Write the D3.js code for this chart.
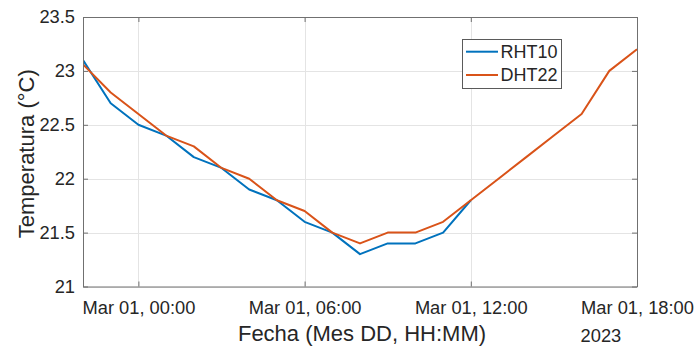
<!DOCTYPE html>
<html>
<head>
<meta charset="utf-8">
<script src="https://cdn.jsdelivr.net/npm/d3@7/dist/d3.min.js"></script>
<style>
  html, body { margin: 0; padding: 0; background: #fff; }
  svg { display: block; font-family: "Liberation Sans", Arial, Helvetica, sans-serif; }
</style>
</head>
<body>
<svg id="chart" width="699" height="347"></svg>
<script>
// Hourly readings, Feb 28 22:00 .. Mar 01 18:00 (2023)
const startHour = new Date(2023, 1, 28, 22, 0);
const rhtHours = [0, 1, 2, 3, 4, 5, 6, 7, 8, 9, 10, 11, 12, 13, 14];
const rhtValues = [23.1, 22.7, 22.5, 22.4, 22.2, 22.1, 21.9, 21.8, 21.6, 21.5, 21.3, 21.4, 21.4, 21.5, 21.8];
const dhtHours = [0, 1, 2, 3, 4, 5, 6, 7, 8, 9, 10, 11, 12, 13, 14, 15, 16, 17, 18, 19, 20];
const dhtValues = [23.06, 22.8, 22.6, 22.4, 22.3, 22.1, 22.0, 21.8, 21.7, 21.5, 21.4, 21.5, 21.5, 21.6, 21.8, 22.0, 22.2, 22.4, 22.6, 23.0, 23.2];
const yTicks = [21, 21.5, 22, 22.5, 23, 23.5];
const xTickHours = [2, 8, 14, 20];
const seriesNames = ["RHT10", "DHT22"];
const seriesColors = ["#0072BD", "#D95319"];

const toDate = h => new Date(startHour.getTime() + h * 3600e3);

const svg = d3.select("#chart");
const plotLeft = 83, plotRight = 637, plotTop = 17, plotBottom = 286.5;
const textColor = "#262626";
const axisColor = "#707070";

const x = d3.scaleTime()
  .domain([toDate(0), toDate(20)])
  .range([plotLeft, plotRight]);
const y = d3.scaleLinear()
  .domain([21, 23.5])
  .range([plotBottom, plotTop]);

const xTicks = xTickHours.map(toDate);
const fmt = d3.timeFormat("%b %d, %H:%M");

// grid
const grid = svg.append("g").attr("stroke", "#e4e4e4").attr("stroke-width", 1);
grid.selectAll("line.gy").data(yTicks).join("line")
  .attr("x1", plotLeft).attr("x2", plotRight)
  .attr("y1", d => Math.round(y(d)) + 0.5).attr("y2", d => Math.round(y(d)) + 0.5);
grid.selectAll("line.gx").data(xTicks).join("line")
  .attr("y1", plotTop).attr("y2", plotBottom)
  .attr("x1", d => Math.round(x(d)) + 0.5).attr("x2", d => Math.round(x(d)) + 0.5);

// series lines
const line = d3.line().x(d => x(d[0])).y(d => y(d[1]));
const series = [
  rhtHours.map((h, i) => [toDate(h), rhtValues[i]]),
  dhtHours.map((h, i) => [toDate(h), dhtValues[i]])
];
svg.append("clipPath").attr("id", "plotclip")
  .append("rect").attr("x", plotLeft).attr("y", plotTop)
  .attr("width", plotRight - plotLeft).attr("height", plotBottom - plotTop);
svg.append("g").attr("clip-path", "url(#plotclip)")
  .selectAll("path").data(series).join("path")
  .attr("d", line)
  .attr("fill", "none")
  .attr("stroke", (d, i) => seriesColors[i])
  .attr("stroke-width", 2)
  .attr("stroke-linejoin", "round");

// axes (bottom/left with labels, top/right ticks only)
const tickLen = 5;
const xAxis = d3.axisBottom(x).tickValues(xTicks).tickFormat(fmt).tickSizeInner(-tickLen).tickSizeOuter(0).tickPadding(15);
const gx = svg.append("g").attr("transform", `translate(0,${plotBottom})`).call(xAxis);
const xTop = svg.append("g").attr("transform", `translate(0,${plotTop})`)
  .call(d3.axisTop(x).tickValues(xTicks).tickFormat("").tickSizeInner(-tickLen).tickSizeOuter(0));

const yAxis = d3.axisLeft(y).tickValues(yTicks).tickFormat(d3.format("")).tickSizeInner(-tickLen).tickSizeOuter(0).tickPadding(8);
const gy = svg.append("g").attr("transform", `translate(${plotLeft},0)`).call(yAxis);
const yRight = svg.append("g").attr("transform", `translate(${plotRight},0)`)
  .call(d3.axisRight(y).tickValues(yTicks).tickFormat("").tickSizeInner(-tickLen).tickSizeOuter(0));

[gx, xTop, gy, yRight].forEach(g => {
  g.select(".domain").attr("stroke", axisColor);
  g.selectAll(".tick line").attr("stroke", axisColor);
  g.selectAll(".tick text").attr("fill", textColor).attr("font-size", 18.3)
    .attr("font-family", "'Liberation Sans', Arial, sans-serif");
});

// year note under the last tick label, aligned with its left edge
const lastLabel = gx.selectAll(".tick text").filter((d, i) => i === xTicks.length - 1);
const lastBox = lastLabel.node().getBBox();
gx.append("text")
  .attr("x", x(xTicks[xTicks.length - 1]) - lastBox.width / 2)
  .attr("y", 55.5)
  .attr("text-anchor", "start")
  .attr("fill", textColor).attr("font-size", 18.3)
  .text("2023");

// axis titles
svg.append("text")
  .attr("x", (plotLeft + plotRight) / 2 + 2).attr("y", 341)
  .attr("text-anchor", "middle").attr("fill", textColor).attr("font-size", 22)
  .text("Fecha (Mes DD, HH:MM)");
svg.append("text")
  .attr("transform", `translate(34,${(plotTop + plotBottom) / 2 + 2}) rotate(-90)`)
  .attr("text-anchor", "middle").attr("fill", textColor).attr("font-size", 22)
  .text("Temperatura (°C)");

// legend
const lg = svg.append("g").attr("transform", "translate(462,39)");
lg.append("rect").attr("x", 0.5).attr("y", 0.5).attr("width", 99).attr("height", 49)
  .attr("fill", "#fff").attr("stroke", "#5a5a5a").attr("stroke-width", 1);
seriesNames.forEach((name, i) => {
  const cy = 12.7 + i * 23.3;
  lg.append("line").attr("x1", 4).attr("x2", 36).attr("y1", cy).attr("y2", cy)
    .attr("stroke", seriesColors[i]).attr("stroke-width", 2);
  lg.append("text").attr("x", 38.5).attr("y", cy).attr("dy", "0.35em")
    .attr("fill", textColor).attr("font-size", 18).text(name);
});
</script>
</body>
</html>
